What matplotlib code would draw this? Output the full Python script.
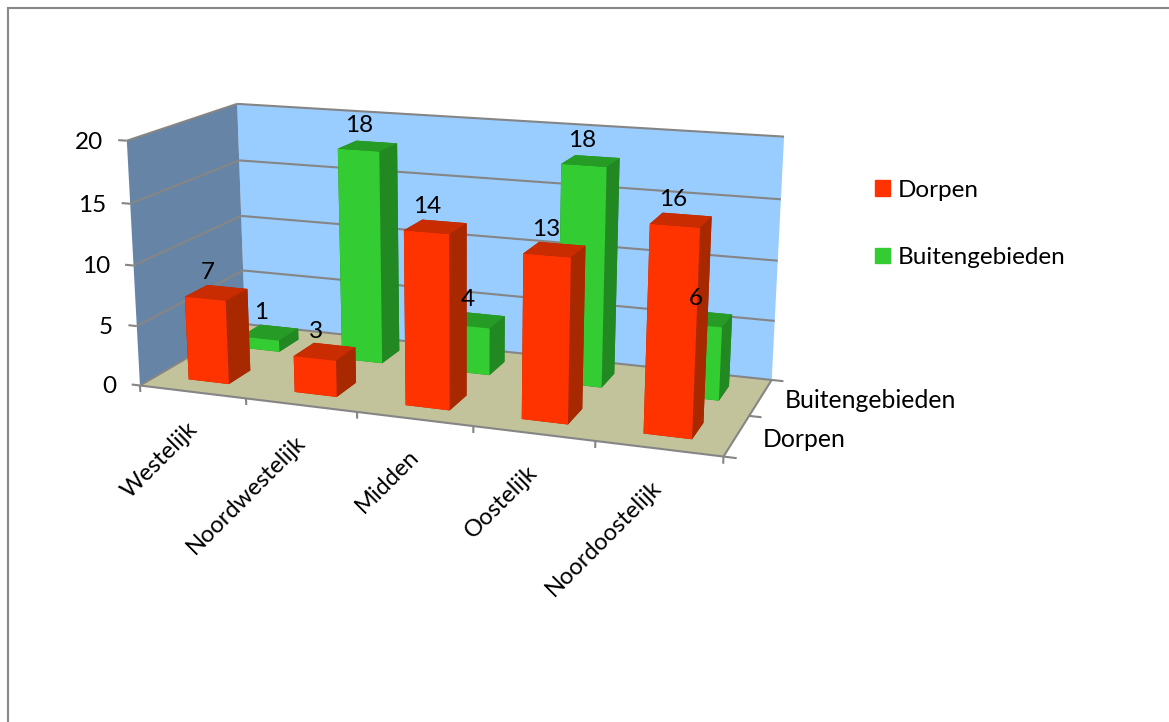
import numpy as np
import matplotlib
matplotlib.use('Agg')
import matplotlib.pyplot as plt
from matplotlib.patches import Patch, Rectangle
from mpl_toolkits.mplot3d.art3d import Poly3DCollection, Line3DCollection

# chart data
categories = ['Westelijk', 'Noordwestelijk', 'Midden', 'Oostelijk', 'Noordoostelijk']
series_names = ['Dorpen', 'Buitengebieden']
dorpen = [7, 3, 14, 13, 16]
buitengebieden = [1, 18, 4, 18, 6]
z_ticks = [0, 5, 10, 15, 20]

W, H = 1169, 722
plt.rcParams['font.family'] = ['Lato', 'DejaVu Sans']
FS = 17.5

RED = ['#a82800', '#c82c00', '#ff3300', '#a82800', '#a82800', '#a82800']
GREEN = ['#228822', '#269c26', '#33cc33', '#228822', '#228822', '#228822']
GRAY = '#858585'

nx, ny, nz = len(categories), len(series_names), z_ticks[-1]

# camera: chart box corners (x, y, z) seen at these pixels, Excel's perspective
box = [(0, 0, 0), (nx, 0, 0), (0, ny, 0), (nx, ny, 0),
       (0, 0, nz), (0, ny, nz), (nx, ny, nz),
       (0, ny, 10), (nx, ny, 10), (0, 0, 5)]
seen = [(140, 385), (723, 458), (245, 325), (772, 378),
        (127, 140), (237, 104), (784, 137),
        (241, 216), (778, 261), (137, 326)]

def fit_camera(box, seen):
	rows = []
	for (X, Y, Z), (u, v) in zip(box, seen):
		rows.append([X, Y, Z, 1, 0, 0, 0, 0, -u*X, -u*Y, -u*Z, -u])
		rows.append([0, 0, 0, 0, X, Y, Z, 1, -v*X, -v*Y, -v*Z, -v])
	P = np.linalg.svd(np.array(rows, float))[2][-1].reshape(3, 4)
	if P[2] @ np.array([nx/2, ny/2, nz/2, 1]) < 0:
		P = -P
	return P / (P[2] @ np.array([nx/2, ny/2, nz/2, 1]))

P = fit_camera(box, seen)

def pixel(x, y, z):
	p = P @ np.array([x, y, z, 1.0])
	return p[0]/p[2], H - p[1]/p[2]

fig = plt.figure(figsize=(W/100, H/100), dpi=100)
ax = fig.add_axes([0, 0, 1, 1], projection='3d', computed_zorder=False)
ax.set_axis_off()
ax.apply_aspect = lambda position=None: None

def get_proj():
	flip = np.array([[1, 0, 0], [0, -1, H], [0, 0, 1.0]])
	Q = ax.transData.inverted().get_matrix() @ flip @ P
	depth = Q[2] - np.array([0, 0, 0, 0.5])
	return np.array([Q[0], Q[1], depth, Q[2]])

ax.get_proj = get_proj

def pane(corners, color):
	ax.add_collection3d(Poly3DCollection([corners], facecolors=color, edgecolors='none', zorder=1))

pane([(0, 0, 0), (nx, 0, 0), (nx, ny, 0), (0, ny, 0)], '#c3c39b')
pane([(0, ny, 0), (nx, ny, 0), (nx, ny, nz), (0, ny, nz)], '#99ccff')
pane([(0, 0, 0), (0, ny, 0), (0, ny, nz), (0, 0, nz)], '#6685a6')

# grid and ticks
segs = []
for z in z_ticks:
	segs.append([(-0.08, 0, z), (0, 0, z)])
	segs.append([(0, 0, z), (0, ny, z)])
	segs.append([(0, ny, z), (nx, ny, z)])
segs.append([(0, 0, 0), (nx, 0, 0)])
segs.append([(nx, 0, 0), (nx, ny, 0)])
for i in range(nx + 1):
	segs.append([(i, 0, 0), (i, 0, -0.55)])
for j in range(ny + 1):
	segs.append([(nx, j, 0), (nx + 0.1, j, 0)])
ax.add_collection3d(Line3DCollection(segs, colors=GRAY, linewidths=1.5, zorder=2))

# bars, back row first
bw, bd = 0.385, 0.41
for j, (vals, colors) in reversed(list(enumerate([(dorpen, RED), (buitengebieden, GREEN)]))):
	for i, v in enumerate(vals):
		ax.bar3d(i + 0.5 - bw/2, j + 0.5 - bd/2, 0, bw, bd, v, color=colors, shade=False, zorder=3 + (1 - j))

# value labels
for j, vals in enumerate([dorpen, buitengebieden]):
	for i, v in enumerate(vals):
		ax.annotate(str(v), pixel(i + 0.5, j + 0.5, v), xycoords='figure pixels',
			xytext=(-6, 7), textcoords='offset points', ha='center', va='bottom',
			fontsize=FS, color='black', zorder=10)

# axis labels
for z in z_ticks:
	ax.annotate(str(z), pixel(0, 0, z), xycoords='figure pixels', xytext=(-17, -1),
		textcoords='offset points', ha='right', va='center', fontsize=FS, zorder=10)
for i, name in enumerate(categories):
	ax.annotate(name, pixel(i + 0.5, 0, -2.2), xycoords='figure pixels', xytext=(-5, 0),
		textcoords='offset points', rotation=45, rotation_mode='anchor', ha='right', va='top',
		fontsize=17, zorder=10)
for j, name in enumerate(series_names):
	ax.annotate(name, pixel(nx + 0.25, j + 0.5, 0), xycoords='figure pixels', xytext=(-4.5, 0),
		textcoords='offset points', ha='left', va='center', fontsize=FS + 0.3, zorder=10)

handles = [Patch(color='#ff3300'), Patch(color='#33cc33')]
fig.legend(handles, series_names, loc='upper left', bbox_to_anchor=(853.5/W, 1 - 158/H), frameon=False,
	fontsize=FS, handlelength=0.62, handleheight=0.62, handletextpad=0.3, labelspacing=1.9)

# chart frame, runs off the picture at right and bottom
fig.add_artist(Rectangle((8/W, -0.1), 1.2, 1.1 - 8/H, transform=fig.transFigure,
	fc='none', ec='#888888', lw=1.5))

fig.savefig('out.png', dpi=100)
